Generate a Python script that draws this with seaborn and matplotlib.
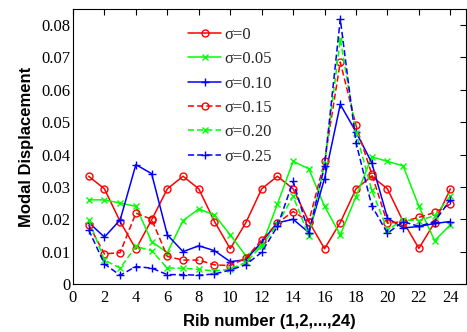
import numpy as np
import pandas as pd
import matplotlib
matplotlib.use("Agg")
import matplotlib.pyplot as plt
import seaborn as sns

sns.set_style("white")
plt.rcParams['font.family'] = ['Liberation Serif', 'DejaVu Serif']

# data
ribs = list(range(1, 25))
s000 = [0.0333, 0.0294, 0.0193, 0.0108, 0.0198, 0.0294, 0.0333, 0.0294, 0.0193, 0.0109, 0.0190, 0.0294,
        0.0333, 0.0294, 0.0193, 0.0109, 0.0190, 0.0294, 0.0333, 0.0294, 0.0193, 0.0110, 0.0190, 0.0294]
s005 = [0.0260, 0.0260, 0.0250, 0.0240, 0.0131, 0.0097, 0.0196, 0.0232, 0.0213, 0.0152, 0.0087, 0.0118,
        0.0247, 0.0379, 0.0356, 0.0240, 0.0152, 0.0270, 0.0393, 0.0379, 0.0365, 0.0240, 0.0134, 0.0183]
s010 = [0.0190, 0.0145, 0.0198, 0.0369, 0.0341, 0.0152, 0.0100, 0.0118, 0.0103, 0.0069, 0.0075, 0.0130,
        0.0189, 0.0200, 0.0159, 0.0326, 0.0555, 0.0470, 0.0375, 0.0204, 0.0173, 0.0178, 0.0187, 0.0193]
s015 = [0.0183, 0.0093, 0.0097, 0.0219, 0.0200, 0.0085, 0.0074, 0.0074, 0.0059, 0.0057, 0.0080, 0.0136,
        0.0188, 0.0224, 0.0193, 0.0379, 0.0686, 0.0490, 0.0340, 0.0188, 0.0193, 0.0206, 0.0221, 0.0247]
s020 = [0.0198, 0.0074, 0.0049, 0.0116, 0.0103, 0.0049, 0.0049, 0.0045, 0.0040, 0.0046, 0.0067, 0.0118,
        0.0185, 0.0271, 0.0149, 0.0370, 0.0757, 0.0468, 0.0290, 0.0167, 0.0198, 0.0196, 0.0211, 0.0271]
s025 = [0.0167, 0.0062, 0.0027, 0.0054, 0.0049, 0.0029, 0.0029, 0.0027, 0.0031, 0.0043, 0.0060, 0.0098,
        0.0178, 0.0317, 0.0159, 0.0365, 0.0819, 0.0437, 0.0242, 0.0157, 0.0193, 0.0178, 0.0193, 0.0260]
labels = ['σ=0', 'σ=0.05', 'σ=0.10', 'σ=0.15', 'σ=0.20', 'σ=0.25']

series = [s000, s005, s010, s015, s020, s025]
colors = ['#ff0000', '#00ff00', '#0000ff', '#ff0000', '#00ff00', '#0000ff']
markers = ['o', 'x', '+', 'o', 'x', '+']
msizes = [5, 4, 6, 5, 4, 6]
dashed = [False, False, False, True, True, True]

fig = plt.figure(figsize=(4.67, 3.32), dpi=100)
ax = fig.add_axes([0.1563, 0.1446, 0.8417, 0.8284])

for vals, lab, c, m, ms, d in zip(series, labels, colors, markers, msizes, dashed):
    sns.lineplot(x=ribs, y=vals, ax=ax, color=c, marker=m, markersize=ms,
                 markerfacecolor='none', markeredgecolor=c, markeredgewidth=1.0,
                 linewidth=1.1, linestyle=(0, (4, 2)) if d else '-', label=lab)

ax.set_xlim(0, 25)
ax.set_ylim(0, 0.085)
ax.set_xticks(range(0, 25, 2))
ax.set_yticks(np.arange(0, 0.081, 0.01))
ax.set_yticklabels(['0'] + ['%.2f' % v for v in np.arange(0.01, 0.081, 0.01)])
ax.tick_params(direction='in', top=True, right=True, length=4, width=0.8,
               labelsize=12, colors='black', pad=2)
ax.tick_params(axis='x', pad=4)
for sp in ax.spines.values():
    sp.set_color('black')
    sp.set_linewidth(0.8)

ax.set_xlabel('Rib number (1,2,...,24)', fontsize=12, fontweight='bold',
              family='Liberation Sans', color='black', labelpad=6)
ax.set_ylabel('Modal Displacement', fontsize=12, fontweight='bold',
              family='Liberation Sans', color='black', labelpad=5)

ax.legend(loc='upper left', bbox_to_anchor=(0.2926, 0.935), frameon=False,
          fontsize=12, handlelength=2.0, handletextpad=0.2, labelspacing=0.5,
          borderpad=0, borderaxespad=0)

fig.savefig('out.png', dpi=100)
